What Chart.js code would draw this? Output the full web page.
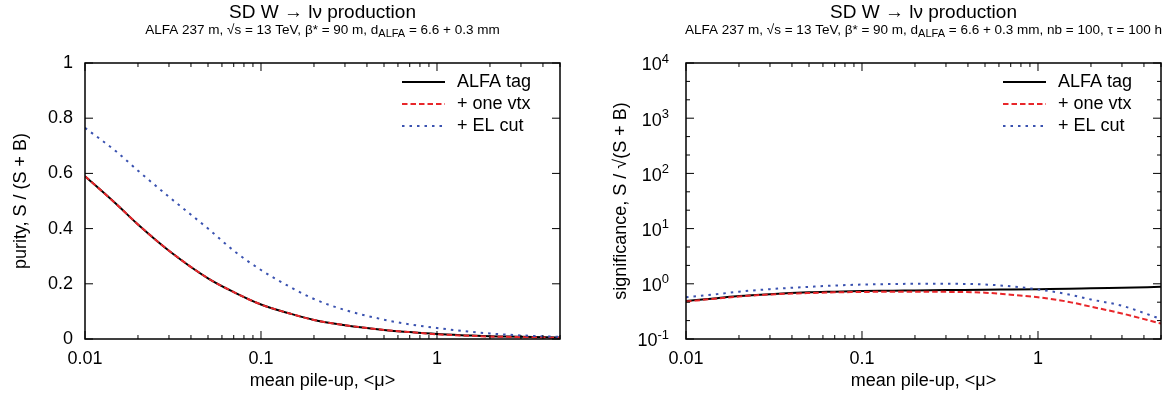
<!DOCTYPE html>
<html lang="en">

<head>
    <meta charset="UTF-8">
    <meta name="viewport" content="width=device-width, initial-scale=1.0">
    <script src="https://cdn.jsdelivr.net/npm/chart.js"></script>
    <title>SD W production - purity and significance</title>
    <style>
        body { margin: 0; background: #fff; }
        .panel { position: absolute; top: 0; height: 405px; }
        #left { left: 0; width: 587px; }
        #right { left: 587px; width: 586px; }
    </style>
</head>

<body>
    <div class="panel" id="left"><canvas id="purityChart"></canvas></div>
    <div class="panel" id="right"><canvas id="signifChart"></canvas></div>
    <script>
        // mean pile-up values (x)
        const mu = [0.01, 0.015, 0.02, 0.03, 0.05, 0.07, 0.1, 0.15, 0.2, 0.3, 0.5, 0.7, 1, 1.5, 2, 3, 5];

        // purity S / (S + B)
        const purityTag = [0.59, 0.49, 0.415, 0.32, 0.22, 0.17, 0.125, 0.09, 0.069, 0.05, 0.033, 0.025, 0.018, 0.013, 0.01, 0.008, 0.005];
        const purityVtx = [0.59, 0.49, 0.415, 0.32, 0.22, 0.17, 0.125, 0.09, 0.069, 0.05, 0.033, 0.025, 0.017, 0.012, 0.009, 0.007, 0.004];
        const purityEl = [0.765, 0.68, 0.61, 0.515, 0.40, 0.32, 0.25, 0.185, 0.145, 0.105, 0.07, 0.053, 0.04, 0.027, 0.02, 0.013, 0.008];

        // significance S / sqrt(S + B)
        const signifTag = [0.49, 0.55, 0.6, 0.65, 0.7, 0.72, 0.74, 0.75, 0.76, 0.77, 0.78, 0.79, 0.8, 0.81, 0.83, 0.85, 0.88];
        const signifVtx = [0.48, 0.54, 0.59, 0.64, 0.68, 0.7, 0.71, 0.72, 0.72, 0.715, 0.69, 0.635, 0.57, 0.47, 0.385, 0.29, 0.19];
        const signifEl = [0.57, 0.65, 0.72, 0.8, 0.88, 0.93, 0.97, 0.99, 1.0, 1.0, 0.97, 0.9, 0.79, 0.64, 0.52, 0.4, 0.23];

        const seriesNames = ["ALFA tag", "+ one vtx", "+ EL cut"];
        const xTicks = [0.01, 0.1, 1];
        const purityTicks = [0, 0.2, 0.4, 0.6, 0.8, 1];
        const signifTicks = [0.1, 1, 10, 100, 1000, 10000];

        const FONT = "'Liberation Sans', Arial, sans-serif";

        function makeDatasets(a, b, c) {
            const base = { pointRadius: 0, borderWidth: 2, fill: false, cubicInterpolationMode: "monotone" };
            // order: lower value is painted on top, so the dashed curves sit over the solid one
            return [
                { ...base, label: seriesNames[0], order: 2, data: mu.map((x, i) => ({ x: x, y: a[i] })), borderColor: "#000000" },
                { ...base, label: seriesNames[1], order: 1, data: mu.map((x, i) => ({ x: x, y: b[i] })), borderColor: "#e8262a", borderDash: [5.5, 3] },
                { ...base, label: seriesNames[2], order: 0, data: mu.map((x, i) => ({ x: x, y: c[i] })), borderColor: "#3a52b0", borderDash: [2.5, 5] }
            ];
        }

        // draws text made of pieces, some of them subscript
        function richText(ctx, parts, cx, y, size) {
            const small = Math.round(size * 0.78);
            let total = 0;
            parts.forEach(p => {
                ctx.font = (p.sub ? small : size) + "px " + FONT;
                p.w = ctx.measureText(p.t).width;
                total += p.w;
            });
            let x = cx - total / 2;
            ctx.textAlign = "left";
            ctx.textBaseline = "middle";
            parts.forEach(p => {
                ctx.font = (p.sub ? small : size) + "px " + FONT;
                ctx.fillText(p.t, x, p.sub ? y + 4 : y);
                x += p.w;
            });
        }

        const gnuplotFrame = {
            id: "gnuplotFrame",
            afterDraw(chart, args, opts) {
                const ctx = chart.ctx;
                const a = chart.chartArea;
                const xs = chart.scales.x;
                const ys = chart.scales.y;
                ctx.save();
                ctx.strokeStyle = "#000";
                ctx.fillStyle = "#000";

                // inside ticks, mirrored
                ctx.lineWidth = 1;
                ctx.beginPath();
                xTicks.forEach(d => {
                    for (let k = 1; k <= 9; k++) {
                        const v = k * d;
                        if (v > xs.max) break;
                        const px = xs.getPixelForValue(v);
                        const len = k === 1 ? 8 : 4;
                        ctx.moveTo(px, a.bottom); ctx.lineTo(px, a.bottom - len);
                        ctx.moveTo(px, a.top); ctx.lineTo(px, a.top + len);
                    }
                });
                opts.yMajor.forEach(v => {
                    const py = ys.getPixelForValue(v);
                    ctx.moveTo(a.left, py); ctx.lineTo(a.left + 8, py);
                    ctx.moveTo(a.right, py); ctx.lineTo(a.right - 8, py);
                });
                if (opts.log) {
                    opts.yMajor.slice(0, -1).forEach(v => {
                        [1 / 3, 2 / 3].forEach(f => {
                            const py = ys.getPixelForValue(v * Math.pow(10, f));
                            ctx.moveTo(a.left, py); ctx.lineTo(a.left + 4, py);
                            ctx.moveTo(a.right, py); ctx.lineTo(a.right - 4, py);
                        });
                    });
                }
                ctx.stroke();

                // frame
                ctx.lineWidth = 1.5;
                ctx.strokeRect(a.left, a.top, a.right - a.left, a.bottom - a.top);

                // power-of-ten labels
                if (opts.log) {
                    opts.yMajor.forEach(v => {
                        const py = ys.getPixelForValue(v);
                        const e = String(Math.round(Math.log10(v)));
                        ctx.font = "18px " + FONT;
                        const wb = ctx.measureText("10").width;
                        ctx.font = "13px " + FONT;
                        const we = ctx.measureText(e).width;
                        const x0 = a.left - 17 - wb - we;
                        ctx.textAlign = "left";
                        ctx.textBaseline = "middle";
                        ctx.font = "18px " + FONT;
                        ctx.fillText("10", x0, py + 2.5);
                        ctx.font = "13px " + FONT;
                        ctx.fillText(e, x0 + wb, py - 4);
                    });
                }

                // legend
                chart.data.datasets.forEach((ds, i) => {
                    const y = a.top + 19 + i * 22;
                    ctx.save();
                    ctx.lineWidth = ds.borderWidth;
                    ctx.strokeStyle = ds.borderColor;
                    ctx.setLineDash(ds.borderDash || []);
                    ctx.beginPath();
                    ctx.moveTo(a.right - 158, y);
                    ctx.lineTo(a.right - 115, y);
                    ctx.stroke();
                    ctx.restore();
                    ctx.font = "18px " + FONT;
                    ctx.textAlign = "left";
                    ctx.textBaseline = "middle";
                    ctx.fillText(ds.label, a.right - 103, y);
                });

                // titles
                const cx = (a.left + a.right) / 2;
                ctx.font = "19px " + FONT;
                ctx.textAlign = "center";
                ctx.textBaseline = "middle";
                ctx.fillText("SD W \u2192 l\u03bd production", cx, 13);
                richText(ctx, opts.subtitle, cx, 30, 13.5);
                ctx.restore();
            }
        };

        function xScale() {
            return {
                type: "logarithmic",
                min: 0.01,
                max: 5,
                grid: { display: false, drawTicks: false },
                border: { display: false },
                afterBuildTicks: s => { s.ticks = xTicks.map(v => ({ value: v })); },
                afterFit: s => { s.height = 66; },
                ticks: { padding: 9, color: "#000", font: { family: FONT, size: 18 }, callback: v => String(v), maxRotation: 0 },
                title: { display: true, text: "mean pile-up, <\u03bc>", color: "#000", font: { family: FONT, size: 18 }, padding: { top: 0, bottom: 13 } }
            };
        }

        const subBase = [{ t: "ALFA 237 m, \u221as = 13 TeV, \u03b2* = 90 m, d" }, { t: "ALFA", sub: true }, { t: " = 6.6 + 0.3 mm" }];

        new Chart(document.getElementById("purityChart"), {
            type: "line",
            data: { datasets: makeDatasets(purityTag, purityVtx, purityEl) },
            plugins: [gnuplotFrame],
            options: {
                responsive: true,
                maintainAspectRatio: false,
                animation: false,
                layout: { padding: { top: 63, right: 27, bottom: 0, left: 0 } },
                scales: {
                    x: xScale(),
                    y: {
                        min: 0,
                        max: 1,
                        grid: { display: false, drawTicks: false },
                        border: { display: false },
                        afterBuildTicks: s => { s.ticks = purityTicks.map(v => ({ value: v })); },
                        afterFit: s => { s.width = 85; },
                        ticks: { padding: 12, color: "#000", font: { family: FONT, size: 18 }, callback: v => String(v) },
                        title: { display: true, text: "purity, S / (S + B)", color: "#000", font: { family: FONT, size: 18 }, padding: { top: 10, bottom: 0 } }
                    }
                },
                plugins: {
                    legend: { display: false },
                    tooltip: { enabled: false },
                    gnuplotFrame: { yMajor: purityTicks, log: false, subtitle: subBase }
                }
            }
        });

        new Chart(document.getElementById("signifChart"), {
            type: "line",
            data: { datasets: makeDatasets(signifTag, signifVtx, signifEl) },
            plugins: [gnuplotFrame],
            options: {
                responsive: true,
                maintainAspectRatio: false,
                animation: false,
                layout: { padding: { top: 63, right: 12, bottom: 0, left: 0 } },
                scales: {
                    x: xScale(),
                    y: {
                        type: "logarithmic",
                        min: 0.1,
                        max: 10000,
                        grid: { display: false, drawTicks: false },
                        border: { display: false },
                        afterBuildTicks: s => { s.ticks = signifTicks.map(v => ({ value: v })); },
                        afterFit: s => { s.width = 99; },
                        ticks: { display: false },
                        title: { display: true, text: "significance, S / \u221a(S + B)", color: "#000", font: { family: FONT, size: 18 }, padding: { top: 23, bottom: 0 } }
                    }
                },
                plugins: {
                    legend: { display: false },
                    tooltip: { enabled: false },
                    gnuplotFrame: {
                        yMajor: signifTicks, log: true,
                        subtitle: subBase.concat([{ t: ", nb = 100, \u03c4 = 100 h" }])
                    }
                }
            }
        });
    </script>
</body>

</html>
